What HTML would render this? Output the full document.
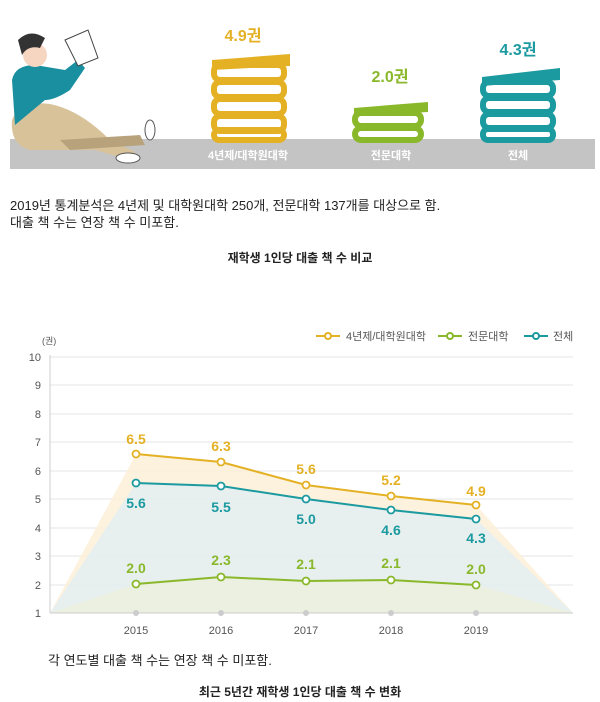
<!DOCTYPE html>
<html><head><meta charset="utf-8"><style>
body{margin:0;background:#fff;width:600px;height:702px;overflow:hidden;font-family:"Liberation Sans","Noto Sans CJK KR",sans-serif}
svg{position:absolute;left:0;top:0}
</style></head><body>
<svg width="600" height="702" viewBox="0 0 600 702" font-family="Liberation Sans, Noto Sans CJK KR, sans-serif">
<!-- top illustration -->
<rect x="10" y="139" width="585" height="30" fill="#c4c4c4"/>
<!-- person -->
<path d="M12 120 Q20 100 50 104 Q80 110 110 140 L135 152 L130 160 L95 150 Q60 150 30 150 Q10 145 12 120Z" fill="#d8c29a"/>
<path d="M60 140 L140 135 L145 145 L70 150Z" fill="#b8a27c"/>
<path d="M12 80 Q15 65 35 65 L65 70 L78 60 L85 68 L70 90 Q55 100 45 100 L15 125Z" fill="#1a8fa0"/>
<circle cx="35" cy="55" r="12" fill="#f6d6c0"/>
<path d="M18 40 Q30 28 45 38 L40 48 Q28 45 22 55Z" fill="#333"/>
<path d="M65 40 L88 30 L98 58 L78 66Z" fill="#fff" stroke="#444" stroke-width="1"/>
<ellipse cx="128" cy="158" rx="12" ry="5" fill="#fff" stroke="#555"/>
<ellipse cx="150" cy="130" rx="5" ry="10" fill="#fff" stroke="#555"/>
<!-- books -->
<g fill="none" stroke-width="6">
<g stroke="#e4b125"><rect x="214" y="65" width="70" height="15" rx="6"/><rect x="214" y="82" width="70" height="15" rx="6"/><rect x="214" y="99" width="70" height="15" rx="6"/><rect x="214" y="116" width="70" height="15" rx="6"/><rect x="214" y="130" width="70" height="10" rx="5"/></g>
<g stroke="#8ab82b"><rect x="355" y="113" width="66" height="13" rx="6"/><rect x="355" y="128" width="66" height="12" rx="6"/></g>
<g stroke="#1b9aa0"><rect x="483" y="82" width="70" height="14" rx="6"/><rect x="483" y="98" width="70" height="14" rx="6"/><rect x="483" y="114" width="70" height="14" rx="6"/><rect x="483" y="129" width="70" height="11" rx="5"/></g>
</g>
<path d="M212 60 L290 54 L290 66 L212 70Z" fill="#e4b125"/>
<path d="M354 108 L428 102 L428 112 L354 116Z" fill="#8ab82b"/>
<path d="M482 77 L560 68 L560 80 L482 86Z" fill="#1b9aa0"/>
<g font-weight="bold" font-size="16" text-anchor="middle">
<text x="243" y="41" fill="#e4b125">4.9권</text>
<text x="390" y="82" fill="#8ab82b">2.0권</text>
<text x="518" y="55" fill="#1b9aa0">4.3권</text>
</g>
<g font-size="11" fill="#fff" text-anchor="middle" font-weight="bold">
<text x="248" y="159">4년제/대학원대학</text><text x="391" y="159">전문대학</text><text x="518" y="159">전체</text>
</g>
<!-- text -->
<g font-size="13" fill="#222">
<text x="10" y="210">2019년 통계분석은 4년제 및 대학원대학 250개, 전문대학 137개를 대상으로 함.</text>
<text x="10" y="227">대출 책 수는 연장 책 수 미포함.</text>
<text x="300" y="262" text-anchor="middle" font-weight="bold" font-size="12">재학생 1인당 대출 책 수 비교</text>
<text x="48" y="665">각 연도별 대출 책 수는 연장 책 수 미포함.</text>
<text x="300" y="696" text-anchor="middle" font-weight="bold" font-size="12">최근 5년간 재학생 1인당 대출 책 수 변화</text>
</g>
<!-- chart -->
<g stroke="#e6e6e6" stroke-width="1">
<line x1="50" y1="357" x2="573" y2="357"/><line x1="50" y1="385" x2="573" y2="385"/><line x1="50" y1="414" x2="573" y2="414"/><line x1="50" y1="442" x2="573" y2="442"/><line x1="50" y1="471" x2="573" y2="471"/><line x1="50" y1="499" x2="573" y2="499"/><line x1="50" y1="528" x2="573" y2="528"/><line x1="50" y1="556" x2="573" y2="556"/><line x1="50" y1="585" x2="573" y2="585"/>
</g>
<path d="M50 613 L136 454 L221 462 L306 485 L391 496 L476 505 L573 613Z" fill="#fcefd6" opacity="0.8"/>
<path d="M50 613 L136 483 L221 486 L306 499 L391 510 L476 519 L573 613Z" fill="#e3eff2" opacity="0.85"/>
<path d="M50 613 L136 584 L221 577 L306 581 L391 580 L476 585 L573 613Z" fill="#eef0dc" opacity="0.8"/>
<line x1="50" y1="613" x2="573" y2="613" stroke="#ccc"/>
<line x1="50" y1="355" x2="50" y2="613" stroke="#ccc"/>
<g fill="#ccc"><circle cx="136" cy="613" r="3"/><circle cx="221" cy="613" r="3"/><circle cx="306" cy="613" r="3"/><circle cx="391" cy="613" r="3"/><circle cx="476" cy="613" r="3"/></g>
<g font-size="11" fill="#555" text-anchor="end">
<text x="41" y="361">10</text><text x="41" y="389">9</text><text x="41" y="418">8</text><text x="41" y="446">7</text><text x="41" y="475">6</text><text x="41" y="503">5</text><text x="41" y="532">4</text><text x="41" y="560">3</text><text x="41" y="589">2</text><text x="41" y="617">1</text>
</g>
<text x="42" y="344" font-size="9" fill="#555">(권)</text>
<g font-size="11" fill="#555" text-anchor="middle">
<text x="136" y="634">2015</text><text x="221" y="634">2016</text><text x="306" y="634">2017</text><text x="391" y="634">2018</text><text x="476" y="634">2019</text>
</g>
<g fill="none" stroke-width="2">
<polyline points="136,454 221,462 306,485 391,496 476,505" stroke="#e4b125"/>
<polyline points="136,483 221,486 306,499 391,510 476,519" stroke="#1b9aa0"/>
<polyline points="136,584 221,577 306,581 391,580 476,585" stroke="#8ab82b"/>
</g>
<g fill="#fff" stroke-width="1.8">
<g stroke="#e4b125"><circle cx="136" cy="454" r="3.5"/><circle cx="221" cy="462" r="3.5"/><circle cx="306" cy="485" r="3.5"/><circle cx="391" cy="496" r="3.5"/><circle cx="476" cy="505" r="3.5"/></g>
<g stroke="#1b9aa0"><circle cx="136" cy="483" r="3.5"/><circle cx="221" cy="486" r="3.5"/><circle cx="306" cy="499" r="3.5"/><circle cx="391" cy="510" r="3.5"/><circle cx="476" cy="519" r="3.5"/></g>
<g stroke="#8ab82b"><circle cx="136" cy="584" r="3.5"/><circle cx="221" cy="577" r="3.5"/><circle cx="306" cy="581" r="3.5"/><circle cx="391" cy="580" r="3.5"/><circle cx="476" cy="585" r="3.5"/></g>
</g>
<g font-size="14" font-weight="bold" text-anchor="middle">
<g fill="#e4b125"><text x="136" y="444">6.5</text><text x="221" y="451">6.3</text><text x="306" y="474">5.6</text><text x="391" y="485">5.2</text><text x="476" y="496">4.9</text></g>
<g fill="#1b9aa0"><text x="136" y="508">5.6</text><text x="221" y="512">5.5</text><text x="306" y="524">5.0</text><text x="391" y="535">4.6</text><text x="476" y="543">4.3</text></g>
<g fill="#8ab82b"><text x="136" y="573">2.0</text><text x="221" y="565">2.3</text><text x="306" y="569">2.1</text><text x="391" y="568">2.1</text><text x="476" y="574">2.0</text></g>
</g>
<!-- legend -->
<g stroke-width="2" fill="#fff">
<line x1="316" y1="336" x2="340" y2="336" stroke="#e4b125"/><circle cx="328" cy="336" r="3" stroke="#e4b125"/>
<line x1="438" y1="336" x2="462" y2="336" stroke="#8ab82b"/><circle cx="450" cy="336" r="3" stroke="#8ab82b"/>
<line x1="524" y1="336" x2="548" y2="336" stroke="#1b9aa0"/><circle cx="536" cy="336" r="3" stroke="#1b9aa0"/>
</g>
<g font-size="11" fill="#555">
<text x="346" y="340">4년제/대학원대학</text><text x="468" y="340">전문대학</text><text x="553" y="340">전체</text>
</g>
</svg>
</body></html>
